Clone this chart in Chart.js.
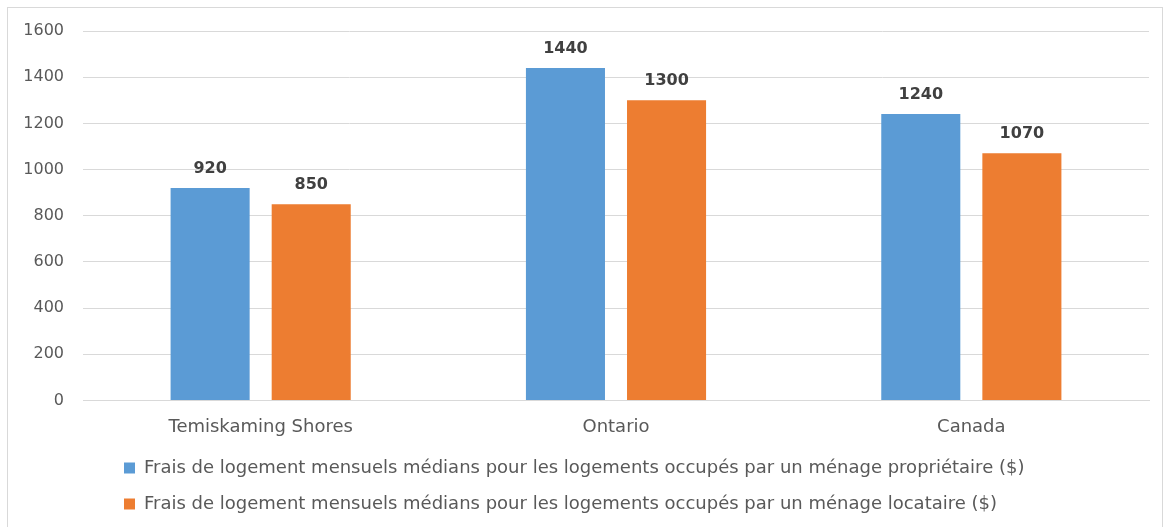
<!DOCTYPE html>
<html>
<head>
<meta charset="utf-8">
<script src="https://cdn.jsdelivr.net/npm/chart.js@4"></script>
<style>
  body { margin: 0; background: #fff; }
  #wrap {
    position: absolute; left: 7px; top: 7px;
    width: 1154px; height: 526px;
    border: 1px solid #d9d9d9;
  }
</style>
</head>
<body>
<div id="wrap"><canvas id="chart"></canvas></div>
<script>
// Data
const categories = ['Temiskaming Shores', 'Ontario', 'Canada'];
const ownerCosts = [920, 1440, 1240];
const renterCosts = [850, 1300, 1070];
const seriesLabels = [
    'Frais de logement mensuels médians pour les logements occupés par un ménage propriétaire ($)',
    'Frais de logement mensuels médians pour les logements occupés par un ménage locataire ($)'
];

Chart.defaults.font.family = "'DejaVu Sans', sans-serif";
Chart.defaults.color = '#595959';

// Value labels above each bar
const barValueLabels = {
    id: 'barValueLabels',
    afterDatasetsDraw(chart) {
        const ctx = chart.ctx;
        ctx.save();
        ctx.font = 'bold 16px "DejaVu Sans", sans-serif';
        ctx.fillStyle = '#404040';
        ctx.textAlign = 'center';
        ctx.textBaseline = 'alphabetic';
        chart.data.datasets.forEach((ds, i) => {
            chart.getDatasetMeta(i).data.forEach((bar, j) => {
                ctx.fillText(ds.data[j], bar.x, bar.y - 15);
            });
        });
        ctx.restore();
    }
};

// Left-aligned legend rows, indented like the original
const legendIndent = {
    id: 'legendIndent',
    afterLayout(chart) {
        if (chart.legend) chart.legend.left = 98;
    }
};

const ctx = document.getElementById('chart').getContext('2d');
new Chart(ctx, {
    type: 'bar',
    data: {
        labels: categories,
        datasets: [{
            label: seriesLabels[0],
            data: ownerCosts,
            backgroundColor: '#5B9BD5',
            categoryPercentage: 0.569,
            barPercentage: 0.782
        }, {
            label: seriesLabels[1],
            data: renterCosts,
            backgroundColor: '#ED7D31',
            categoryPercentage: 0.569,
            barPercentage: 0.782
        }]
    },
    options: {
        responsive: true,
        maintainAspectRatio: false,
        animation: false,
        layout: {
            padding: { top: 23, left: 15, right: 13, bottom: 11 }
        },
        plugins: {
            legend: {
                position: 'bottom',
                align: 'start',
                labels: {
                    boxWidth: 11,
                    boxHeight: 11,
                    padding: 18,
                    color: '#595959',
                    font: { size: 18 }
                }
            },
            tooltip: { enabled: false }
        },
        scales: {
            y: {
                min: 0,
                max: 1600,
                ticks: {
                    stepSize: 200,
                    padding: 19,
                    color: '#595959',
                    font: { size: 16 },
                    callback: (value) => String(value)
                },
                grid: {
                    color: '#d9d9d9',
                    drawTicks: false
                },
                border: { display: false },
                afterFit: (scale) => {
                    scale.width = 60;
                    scale.paddingTop = 10;
                }
            },
            x: {
                ticks: {
                    padding: 8,
                    color: '#595959',
                    font: { size: 18 }
                },
                grid: { display: false },
                border: { color: '#d9d9d9' },
                afterFit: (scale) => { scale.height -= 5; }
            }
        }
    },
    plugins: [barValueLabels, legendIndent]
});
</script>
</body>
</html>
